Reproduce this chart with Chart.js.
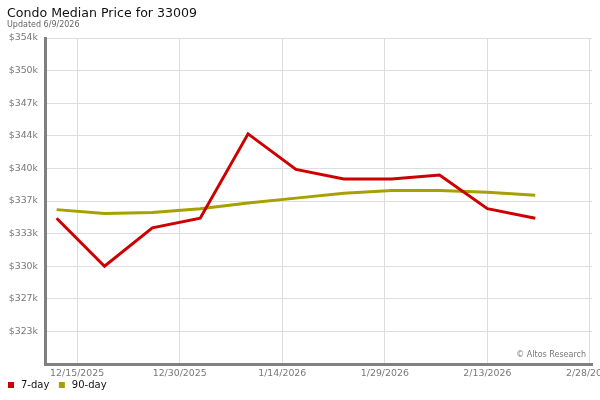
<!DOCTYPE html>
<html>
<head>
<meta charset="utf-8">
<title>Condo Median Price for 33009</title>
<script src="https://cdn.jsdelivr.net/npm/chart.js@4.4.1/dist/chart.umd.min.js"></script>
<style>
  html, body { margin: 0; padding: 0; background: #fff; }
  #wrap { width: 600px; height: 400px; }
</style>
</head>
<body>
<div id="wrap"><canvas id="priceChart" width="600" height="400"></canvas></div>
<script>
// ======================
// DATA
// ======================
const weekDates = [
  '12/12/2025', '12/19/2025', '12/26/2025', '1/2/2026', '1/9/2026', '1/16/2026',
  '1/23/2026', '1/30/2026', '2/6/2026', '2/13/2026', '2/20/2026'
];
const sevenDay = [335000, 330000, 334000, 335000, 343800, 340100, 339100, 339100, 339500, 336000, 335000];
const ninetyDay = [335900, 335500, 335600, 336000, 336600, 337100, 337600, 337900, 337900, 337700, 337400];

const xTickLabels = ['12/15/2025', '12/30/2025', '1/14/2026', '1/29/2026', '2/13/2026', '2/28/2026'];
const xStart = '12/10/2025';
const xEnd = '2/28/2026';

const yMin = 319800;
const yMax = 353800;
const yStep = 3400;

const titleText = 'Condo Median Price for 33009';
const subtitleText = 'Updated 6/9/2026';
const creditText = '\u00A9 Altos Research';

// ======================
// HELPERS
// ======================
function toDay(s) {
  const [m, d, y] = s.split('/').map(Number);
  return Date.UTC(y, m - 1, d) / 86400000;
}

function formatK(v) {
  return '$' + Math.round(v / 1000) + 'k';
}

const FONT = '"DejaVu Sans", "Liberation Sans", sans-serif';

// title, legend, credit drawn straight onto the canvas
const decorPlugin = {
  id: 'decor',
  afterDraw(chart) {
    const ctx = chart.ctx;
    const area = chart.chartArea;
    ctx.save();

    ctx.textAlign = 'left';
    ctx.textBaseline = 'alphabetic';
    ctx.fillStyle = '#111';
    ctx.font = '12.6px ' + FONT;
    ctx.fillText(titleText, 7, 17);

    ctx.fillStyle = '#666';
    ctx.font = '8px ' + FONT;
    ctx.fillText(subtitleText, 7, 27);

    // credit, bottom right inside plot
    ctx.textAlign = 'right';
    ctx.fillStyle = '#777';
    ctx.fillText(creditText, area.right - 6, area.bottom - 7);

    // legend
    ctx.textAlign = 'left';
    ctx.textBaseline = 'middle';
    ctx.font = '10px ' + FONT;
    let x = 8;
    chart.data.datasets.forEach(ds => {
      ctx.fillStyle = ds.borderColor;
      ctx.fillRect(x, 382, 6, 6);
      ctx.fillStyle = '#111';
      ctx.fillText(ds.label, x + 13, 385.5);
      x += 13 + ctx.measureText(ds.label).width + 9.5;
    });

    ctx.restore();
  }
};

// ======================
// CHART
// ======================
const canvas = document.getElementById('priceChart');

new Chart(canvas, {
  type: 'line',

  data: {
    datasets: [
      {
        label: '7-day',
        data: weekDates.map((d, i) => ({ x: toDay(d), y: sevenDay[i] })),
        borderColor: '#cc0000',
        backgroundColor: '#cc0000',
        borderWidth: 3,
        pointRadius: 0,
        tension: 0,
        fill: false
      },
      {
        label: '90-day',
        data: weekDates.map((d, i) => ({ x: toDay(d), y: ninetyDay[i] })),
        borderColor: '#a6a000',
        backgroundColor: '#a6a000',
        borderWidth: 3,
        pointRadius: 0,
        tension: 0,
        fill: false
      }
    ]
  },

  options: {
    responsive: false,
    animation: false,

    layout: {
      autoPadding: false,
      padding: { top: 38, left: 0, right: 8, bottom: 0 }
    },

    plugins: {
      legend: { display: false },
      title: { display: false },
      tooltip: { enabled: false }
    },

    scales: {
      x: {
        type: 'linear',
        min: toDay(xStart) + 0.3,
        max: toDay(xEnd) + 0.3,
        afterFit: s => {
          s.height = 36;
          s.paddingLeft = 0;
          s.paddingRight = 0;
        },
        afterBuildTicks: s => {
          s.ticks = xTickLabels.map(l => ({ value: toDay(l) }));
        },
        ticks: {
          autoSkip: false,
          maxRotation: 0,
          padding: 4,
          color: '#777',
          font: { family: FONT, size: 9.4 },
          callback: (v, i) => xTickLabels[i]
        },
        grid: { color: '#dddddd', lineWidth: 1, drawTicks: false },
        border: { color: '#808080', width: 3 }
      },

      y: {
        min: yMin,
        max: yMax,
        afterFit: s => {
          s.width = 45;
          s.paddingTop = 0;
          s.paddingBottom = 0;
        },
        ticks: {
          stepSize: yStep,
          padding: 7,
          color: '#777',
          font: { family: FONT, size: 9.4 },
          callback: v => (v <= yMin ? '' : formatK(v))
        },
        grid: { color: '#dddddd', lineWidth: 1, drawTicks: false },
        border: { color: '#808080', width: 3 }
      }
    }
  },

  plugins: [decorPlugin]
});
</script>
</body>
</html>
